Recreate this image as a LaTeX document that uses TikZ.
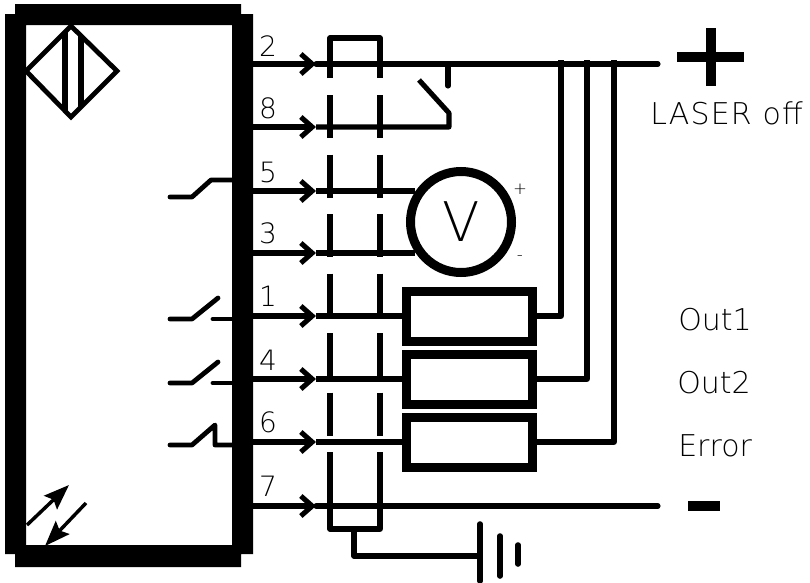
\documentclass[tikz,border=0pt]{standalone}
\usepackage{fontspec}
\setmainfont{DejaVu Sans ExtraLight}
\usetikzlibrary{arrows.meta}
\tikzset{
  wire/.style={line width=3.8pt},
  pinwire/.style={wire,-{Straight Barb[length=8.5pt,width=15pt]}},
  shieldline/.style={line width=3.8pt,line join=round},
  shielddash/.style={shieldline,dash pattern=on 32.25pt off 12.4pt},
  contact/.style={line width=3.6pt,line cap=round,line join=round},
  loadbox/.style={draw,line width=6.75pt,rectangle,minimum width=94.5pt,minimum height=37.5pt,inner sep=0pt},
  meter/.style={draw,line width=6.75pt,circle,minimum size=75.75pt,inner sep=0pt,font=\fontsize{41}{41}\selectfont},
  pinlabel/.style={inner sep=0pt,font=\fontsize{21}{21}\selectfont},
  sidelabel/.style={inner sep=0pt,anchor=west,font=\fontsize{22.5}{22.5}\selectfont},
  signlabel/.style={inner sep=0pt,font=\fontsize{12.5}{12.5}\selectfont},
  ray/.style={line width=2.6pt,-{Stealth[length=19pt,width=14pt,inset=3pt]}}
}
\begin{document}
\begin{tikzpicture}[x=.75pt,y=-.75pt]
  \useasboundingbox (0,0) rectangle (810,582);

  % sensor housing
  \fill[even odd rule] (5,14) -- (15,14) -- (15,4) -- (241,4) -- (241,14) -- (253,14)
    -- (253,554) -- (241,554) -- (241,567) -- (15,567) -- (15,554) -- (5,554) -- cycle
    (26,25) rectangle (232,545);

  % diamond symbol
  \draw[contact,line join=miter] (26,71) -- (71,26) -- (117,71) -- (71,117) -- cycle;
  \draw[line width=3.8pt] (65,32) -- (65,111);
  \draw[line width=3.8pt] (81,36) -- (81,107);

  % emitter and receiver
  \coordinate (e1) at (27,525); \coordinate (e2) at (69,485);
  \coordinate (r1) at (86,503); \coordinate (r2) at (45,546);
  \draw[ray] (e1) to (e2);
  \draw[ray] (r1) to (r2);

  % pins
  \coordinate (s2) at (253,64);  \coordinate (j2) at (316,64);
  \coordinate (s8) at (253,127); \coordinate (j8) at (316,127);
  \coordinate (s5) at (253,191); \coordinate (j5) at (316,191);
  \coordinate (s3) at (253,253); \coordinate (j3) at (316,253);
  \coordinate (s1) at (253,316); \coordinate (j1) at (316,316);
  \coordinate (s4) at (253,379); \coordinate (j4) at (316,379);
  \coordinate (s6) at (253,442); \coordinate (j6) at (316,442);
  \coordinate (s7) at (253,506); \coordinate (j7) at (316,506);

  \draw[pinwire] (s2) to (j2); \draw[pinwire] (s8) to (j8);
  \draw[pinwire] (s5) to (j5); \draw[pinwire] (s3) to (j3);
  \draw[pinwire] (s1) to (j1); \draw[pinwire] (s4) to (j4);
  \draw[pinwire] (s6) to (j6); \draw[pinwire] (s7) to (j7);

  \node[pinlabel] (n2) at (268,46) {2};
  \node[pinlabel] (n8) at (268,108) {8};
  \node[pinlabel] (n5) at (268,172) {5};
  \node[pinlabel] (n3) at (268,233) {3};
  \node[pinlabel] (n1) at (268,296) {1};
  \node[pinlabel] (n4) at (268,360) {4};
  \node[pinlabel] (n6) at (268,422) {6};
  \node[pinlabel] (n7) at (268,486) {7};

  % internal contacts
  \draw[contact] (170,197) -- (192,197) -- (211,180) -- (232,180);
  \draw[contact] (170,319) -- (192,319) -- (218,298);
  \draw[contact] (213,319) -- (232,319);
  \draw[contact] (170,383) -- (192,383) -- (218,362);
  \draw[contact] (213,383) -- (232,383);
  \draw[contact] (170,445) -- (192,445) -- (215,425) -- (215,445) -- (232,445);

  % shield
  \coordinate (sa) at (330,78); \coordinate (sb) at (330,38);
  \coordinate (sc) at (380,38); \coordinate (sd) at (380,78);
  \draw[shieldline] (sa) -- (sb) -- (sc) -- (sd);
  \coordinate (da) at (330,95); \coordinate (db) at (330,436);
  \coordinate (dc) at (380,95); \coordinate (dd) at (380,436);
  \draw[shielddash] (da) to (db); \draw[shielddash] (dc) to (dd);
  \coordinate (ua) at (330,452); \coordinate (ub) at (330,529);
  \coordinate (uc) at (380,529); \coordinate (ud) at (380,452);
  \draw[shieldline] (ua) -- (ub) -- (uc) -- (ud);

  % earth
  \coordinate (g0) at (354,529); \coordinate (g1) at (354,556); \coordinate (g2) at (480,556);
  \draw[wire,line join=round] (g0) -- (g1) -- (g2);
  \coordinate (ba) at (480,524); \coordinate (bb) at (480,581);
  \coordinate (bc) at (500,536); \coordinate (bd) at (500,576);
  \coordinate (be) at (518,545); \coordinate (bf) at (518,564);
  \draw[line width=4.2pt,line cap=round] (ba) to (bb);
  \draw[line width=4.2pt,line cap=round] (bc) to (bd);
  \draw[line width=4.2pt,line cap=round] (be) to (bf);

  % supply rails
  \coordinate (e7) at (658,506);
  \coordinate (e2p) at (658,64);
  \draw[wire,line cap=round] (j2) to (e2p);
  \draw[wire,line cap=round] (j7) to (e7);
  \fill (677,52) rectangle (744,62);
  \fill (706,28) rectangle (716,86);
  \fill (688,501) rectangle (720,511);

  % laser switch
  \coordinate (w1) at (449,127); \coordinate (w2) at (449,113); \coordinate (w3) at (419,80);
  \coordinate (w4) at (448,64); \coordinate (w5) at (448,86);
  \draw[wire,line join=round] (j8) -- (w1) -- (w2) -- (w3);
  \draw[wire,line cap=round] (w4) to (w5);

  % voltmeter
  \node[meter] (volt) at (461,222) {V};
  \draw[wire] (j5) to (j5 -| volt.146);
  \draw[wire] (j3) to (j3 -| volt.214);
  \node[signlabel] (vplus) at (520,189) {+};
  \node[signlabel] (vminus) at (520,258) {-};

  % outputs
  \node[loadbox] (out1) at (469.5,316) {};
  \node[loadbox] (out2) at (469.5,379) {};
  \node[loadbox] (out3) at (469.5,442) {};
  \draw[wire] (j1) to (out1.west);
  \draw[wire] (j4) to (out2.west);
  \draw[wire] (j6) to (out3.west);

  \coordinate (t1) at (561,60); \coordinate (t2) at (587,60); \coordinate (t3) at (614,60);
  \draw[wire,line join=round] (out1.east) -| (t1);
  \draw[wire,line join=round] (out2.east) -| (t2);
  \draw[wire,line join=round] (out3.east) -| (t3);

  % labels
  \node[sidelabel] (laser) at (650,113) {\addfontfeature{LetterSpace=4}LASER off};
  \node[sidelabel] (lout1) at (678,320) {Out1};
  \node[sidelabel] (lout2) at (677,383) {Out2};
  \node[sidelabel] (lerror) at (678,446) {Error};
\end{tikzpicture}
\end{document}
